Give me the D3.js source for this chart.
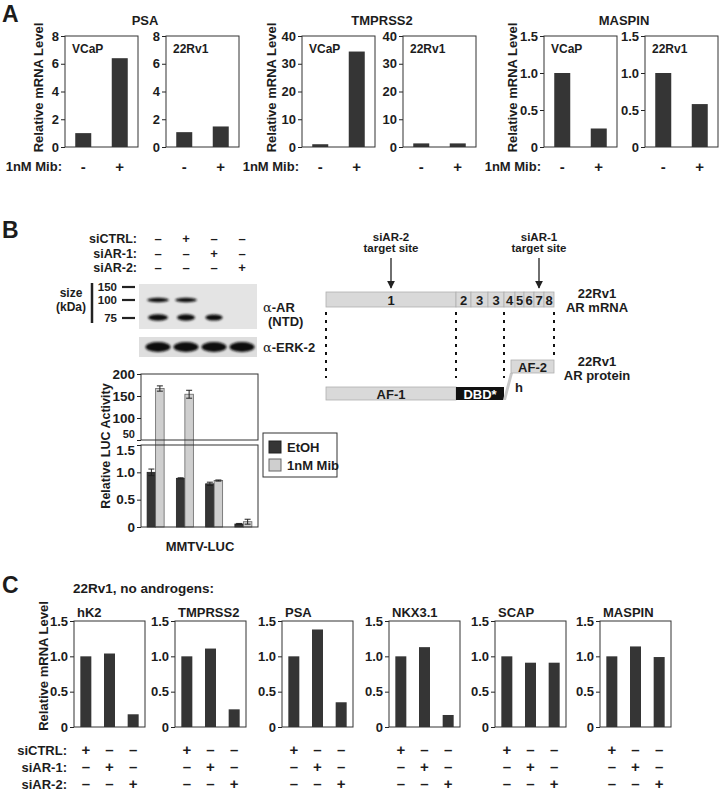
<!DOCTYPE html>
<html><head><meta charset="utf-8">
<script src="https://cdn.jsdelivr.net/npm/d3@7"></script>
<style>
body{margin:0;background:#fff}
svg text{font-family:"Liberation Sans",Arial,Helvetica,sans-serif;font-weight:bold;fill:#1c1c1c}
.tick line{stroke:#222}
</style></head><body>
<svg id="fig" width="721" height="791"></svg>
<script>
// ---------------- DATA ----------------
// Panel A
const aGenes = ["PSA", "TMPRSS2", "MASPIN"];
const aCells = ["VCaP", "22Rv1"];
const aMib = ["-", "+"];
const aPSA = [[1.0, 6.4], [1.07, 1.48]];
const aTMPRSS2 = [[1.0, 34.4], [1.3, 1.3]];
const aMASPIN = [[1.0, 0.25], [1.0, 0.58]];
const aYMax = [8, 40, 1.5];
const aTicks = [[0, 2, 4, 6, 8], [0, 10, 20, 30, 40], [0, 0.5, 1.0, 1.5]];

// Panel B
const bRowLabels = ["siCTRL:", "siAR-1:", "siAR-2:"];
const bSigns = [["–", "+", "–", "–"], ["–", "–", "+", "–"], ["–", "–", "–", "+"]];
const bLanes = ["1", "2", "3", "4"];
const bSizes = ["150", "100", "75"];
const bBandAR100 = [1, 1, 0, 0];
const bBandAR75 = [1, 0.9, 0.85, 0];
const bBandERK = [1, 1, 1, 1];
const bSeries = ["EtOH", "1nM Mib"];
const bEtOH = [1.0, 0.89, 0.79, 0.055];
const bEtOHErr = [0.06, 0.01, 0.03, 0.01];
const bMib = [167, 154, 0.85, 0.097];
const bMibErr = [6, 9, 0.01, 0.045];
const bUpperTicks = [50, 100, 150, 200];
const bLowerTicks = [0, 0.5, 1.0, 1.5];
const exonLabels = ["1", "2", "3", "3", "4", "5", "6", "7", "8"];
const exonLen = [130, 15, 17, 16, 11, 9, 10, 10, 10];
const siTargets = [{ name: "siAR-2", pos: 65 }, { name: "siAR-1", pos: 213 }];

// Panel C
const cGenes = ["hK2", "TMPRSS2", "PSA", "NKX3.1", "SCAP", "MASPIN"];
const cConds = ["siCTRL", "siAR-1", "siAR-2"];
const cRowLabels = ["siCTRL:", "siAR-1:", "siAR-2:"];
const cSigns = [["+", "–", "–"], ["–", "+", "–"], ["–", "–", "+"]];
const cValues = [
  [1.0, 1.04, 0.18],
  [1.0, 1.11, 0.25],
  [1.0, 1.38, 0.35],
  [1.0, 1.13, 0.17],
  [1.0, 0.91, 0.91],
  [1.0, 1.14, 0.99]
];
const cTicks = [0, 0.5, 1.0, 1.5];

// ---------------- DRAWING ----------------
const svg = d3.select("#fig");
const defs = svg.append("defs");
defs.append("filter").attr("id", "blur").attr("x", "-50%").attr("y", "-100%").attr("width", "200%").attr("height", "300%")
  .append("feGaussianBlur").attr("stdDeviation", 1.1);
defs.append("marker").attr("id", "arr").attr("viewBox", "0 0 10 10").attr("refX", 9).attr("refY", 5)
  .attr("markerWidth", 6).attr("markerHeight", 6).attr("orient", "auto")
  .append("path").attr("d", "M0,0 L10,5 L0,10 z").attr("fill", "#222");

const DARK = "#353535", LIGHT = "#cfcfcf";
const fmtDec = d => d === 0 ? "0" : d3.format(".1f")(d);

function txt(x, y, s, size, anchor, extra) {
  const t = svg.append("text").attr("x", x).attr("y", y).attr("font-size", size)
    .attr("text-anchor", anchor || "start").text(s);
  if (extra) extra(t);
  return t;
}
function yAxis(x0, scale, ticks, fmt, size) {
  const g = svg.append("g").attr("transform", `translate(${x0},0)`)
    .call(d3.axisLeft(scale).tickValues(ticks).tickSize(4).tickPadding(2).tickFormat(fmt));
  g.select(".domain").remove();
  g.selectAll("text").attr("font-size", size).style("font-family", "'Liberation Sans',Arial,sans-serif").style("font-weight", "bold").attr("fill", "#1c1c1c");
  return g;
}
function box(x0, y0, w, h) {
  svg.append("rect").attr("x", x0).attr("y", y0).attr("width", w).attr("height", h)
    .attr("fill", "none").attr("stroke", "#333").attr("stroke-width", 1);
}

// ===== Panel A =====
txt(2, 22, "A", 23);
const aData = [aPSA, aTMPRSS2, aMASPIN];
const aLeft = [65, 302, 544];
const aYLab = [43, 276, 517];
const aBoxW = 73, aGap = 101, aTop = 36, aBot = 147;
aGenes.forEach((g, gi) => {
  const y = d3.scaleLinear().domain([0, aYMax[gi]]).range([aBot, aTop]);
  const fmt = gi < 2 ? d3.format("d") : fmtDec;
  txt(aLeft[gi] + 80, 25, g, 13, "middle");
  svg.append("text").attr("font-size", 13).attr("text-anchor", "middle")
    .attr("transform", `translate(${aYLab[gi]},${(aTop + aBot) / 2 - 4}) rotate(-90)`).text("Relative mRNA Level");
  txt(aLeft[gi] - 3, 171, "1nM Mib:", 13, "end");
  aCells.forEach((c, ci) => {
    const x0 = aLeft[gi] + ci * aGap;
    const x = d3.scalePoint().domain(aMib).range([x0, x0 + aBoxW]).padding(0.5);
    yAxis(x0, y, aTicks[gi], fmt, 13);
    const bw = 16;
    svg.selectAll(null).data(aData[gi][ci]).enter().append("rect")
      .attr("x", (d, i) => x(aMib[i]) - bw / 2).attr("width", bw)
      .attr("y", d => y(d)).attr("height", d => aBot - y(d)).attr("fill", DARK);
    box(x0, aTop, aBoxW, aBot - aTop);
    txt(x0 + 7, 53, c, 12);
    aMib.forEach(m => txt(x(m), 172, m, 15, "middle"));
  });
});

// ===== Panel B: western blot =====
txt(2, 238, "B", 23);
const laneX = d3.scalePoint().domain(bLanes).range([144, 256]).padding(0.5);
bRowLabels.forEach((l, ri) => {
  const yy = [243, 257.5, 272][ri];
  txt(137, yy, l, 12.5, "end");
  bLanes.forEach((ln, li) => txt(laneX(ln), yy, bSigns[ri][li], 13, "middle"));
});
svg.append("rect").attr("x", 139).attr("y", 284).attr("width", 118).attr("height", 45).attr("fill", "#e4e4e4");
svg.append("rect").attr("x", 139).attr("y", 337).attr("width", 118).attr("height", 20).attr("fill", "#dedede");
function bands(arr, yc, w, h) {
  arr.forEach((d, i) => {
    if (d <= 0) return;
    svg.append("ellipse").attr("cx", laneX(bLanes[i])).attr("cy", yc).attr("rx", w / 2 * d)
      .attr("ry", h / 2 * (0.7 + 0.3 * d)).attr("fill", "#111").attr("filter", "url(#blur)");
  });
}
bands(bBandAR100, 300, 22, 4.5);
bands(bBandAR75, 317.5, 20, 6.5);
bands(bBandERK, 347, 25, 10);
const sizeY = [287, 300, 318];
bSizes.forEach((s, i) => {
  txt(117, sizeY[i] + 4, s, 11.5, "end");
  svg.append("line").attr("x1", 122).attr("x2", 135).attr("y1", sizeY[i]).attr("y2", sizeY[i]).attr("stroke", "#222").attr("stroke-width", 2.2);
});
svg.append("line").attr("x1", 92).attr("x2", 92).attr("y1", 283).attr("y2", 323).attr("stroke", "#222").attr("stroke-width", 2.5);
txt(71, 297, "size", 12, "middle");
txt(71, 311, "(kDa)", 12, "middle");
function alpha(x, y, rest) {
  const t = txt(x, y, "", 13);
  t.append("tspan").style("font-family", "'DejaVu Serif','Liberation Serif',serif").style("font-weight", "normal").text("α");
  t.append("tspan").text(rest);
}
alpha(263, 312, "-AR");
txt(268, 326, "(NTD)", 13);
alpha(263, 352, "-ERK-2");

// ===== Panel B: luciferase chart =====
const bx = d3.scalePoint().domain(bLanes).range([141, 258]).padding(0.5);
const yU = d3.scaleLinear().domain([50, 200]).range([440, 374]);
const yL = d3.scaleLinear().domain([0, 1.5]).range([527, 445]);
const bw2 = 8.5;
const topOf = v => v > 1.5 ? yU(v) : yL(v);
[bEtOH, bMib].forEach((ser, si) => {
  const err = si === 0 ? bEtOHErr : bMibErr;
  ser.forEach((v, i) => {
    const cx = bx(bLanes[i]);
    const xL = si === 0 ? cx - bw2 : cx;
    svg.append("rect").attr("x", xL).attr("width", bw2).attr("y", topOf(v)).attr("height", 527 - topOf(v))
      .attr("fill", si === 0 ? DARK : LIGHT).attr("stroke", si === 0 ? "#222" : "#666").attr("stroke-width", 0.8);
    const xc = xL + bw2 / 2;
    const e1 = topOf(v + err[i]), e2 = topOf(v - err[i]);
    svg.append("line").attr("x1", xc).attr("x2", xc).attr("y1", e1).attr("y2", e2).attr("stroke", "#222");
    [e1, e2].forEach(ey => svg.append("line").attr("x1", xc - 3).attr("x2", xc + 3).attr("y1", ey).attr("y2", ey).attr("stroke", "#222"));
  });
});
box(141, 374, 117, 66);
box(141, 445, 117, 82);
const gu = yAxis(141, yU, bUpperTicks, d3.format("d"), 13.5);
gu.selectAll(".tick").filter(d => d === 50).select("text").attr("font-size", 11).attr("dy", "-0.2em");
const gl = yAxis(141, yL, bLowerTicks, fmtDec, 13.5);
gl.selectAll(".tick").filter(d => d === 1.5).select("text").attr("dy", "0.72em");
svg.append("text").attr("font-size", 12.5).attr("text-anchor", "middle")
  .attr("transform", `translate(110,446) rotate(-90)`).text("Relative LUC Activity");
txt(200, 551, "MMTV-LUC", 13, "middle");
// legend
svg.append("rect").attr("x", 263).attr("y", 433).attr("width", 74).attr("height", 44).attr("fill", "#fff").attr("stroke", "#333");
bSeries.forEach((s, i) => {
  svg.append("rect").attr("x", 269).attr("y", 441 + i * 18).attr("width", 12).attr("height", 12)
    .attr("fill", i === 0 ? DARK : LIGHT).attr("stroke", i === 0 ? "#222" : "#666");
  txt(287, 452 + i * 18, s, 13);
});

// ===== Panel B: AR diagram =====
const ex = d3.scaleLinear().domain([0, d3.sum(exonLen)]).range([326, 554]);
const exStart = d3.cumsum([0].concat(exonLen));
exonLabels.forEach((l, i) => {
  svg.append("rect").attr("x", ex(exStart[i])).attr("y", 292).attr("width", ex(exStart[i + 1]) - ex(exStart[i]))
    .attr("height", 15).attr("fill", "#d9d9d9").attr("stroke", "#b0b0b0").attr("stroke-width", 0.8);
  txt((ex(exStart[i]) + ex(exStart[i + 1])) / 2, 304.5, l, 13, "middle");
});
siTargets.forEach(t => {
  const xx = ex(t.pos);
  txt(xx, 241, t.name, 11.5, "middle");
  txt(xx, 252, "target site", 11.5, "middle");
  svg.append("line").attr("x1", xx).attr("x2", xx).attr("y1", 258).attr("y2", 288).attr("stroke", "#222").attr("stroke-width", 1.3).attr("marker-end", "url(#arr)");
});
txt(597, 298, "22Rv1", 13, "middle");
txt(597, 312, "AR mRNA", 13, "middle");
const dots = [[exStart[0], 378], [exStart[1], 378], [exStart[4], 378], [exStart[9], 356]];
dots.forEach(([p, y2]) => {
  svg.append("line").attr("x1", ex(p)).attr("x2", ex(p)).attr("y1", 312).attr("y2", y2)
    .attr("stroke", "#111").attr("stroke-width", 2).attr("stroke-dasharray", "3,5");
});
svg.append("rect").attr("x", ex(exStart[0])).attr("y", 387).attr("width", ex(exStart[1]) - ex(exStart[0])).attr("height", 13)
  .attr("fill", "#d9d9d9").attr("stroke", "#b0b0b0").attr("stroke-width", 0.8);
txt((ex(exStart[0]) + ex(exStart[1])) / 2, 399, "AF-1", 13, "middle");
svg.append("rect").attr("x", ex(exStart[1])).attr("y", 387).attr("width", ex(exStart[4]) - ex(exStart[1])).attr("height", 13).attr("fill", "#111");
txt((ex(exStart[1]) + ex(exStart[4])) / 2, 399, "DBD*", 13, "middle", t => t.style("fill", "#fff"));
const hx = ex(exStart[4]);
svg.append("polygon").attr("points", `${hx - 1},400 ${hx + 2},400 ${hx + 9},373 ${hx + 6},373`).attr("fill", "#c8c8c8");
svg.append("rect").attr("x", hx + 7).attr("y", 360).attr("width", 43).attr("height", 13)
  .attr("fill", "#d9d9d9").attr("stroke", "#b0b0b0").attr("stroke-width", 0.8);
txt(hx + 28.5, 372, "AF-2", 13, "middle");
txt(hx + 11, 392, "h", 13);
txt(597, 366, "22Rv1", 13, "middle");
txt(597, 380, "AR protein", 13, "middle");

// ===== Panel C =====
txt(2, 593, "C", 23);
txt(73, 593, "22Rv1, no androgens:", 13.5);
const cLeft = [74, 175, 282, 389, 495, 600];
const cW = 71, cTop = 621, cBot = 727;
const yc = d3.scaleLinear().domain([0, 1.5]).range([cBot, cTop]);
svg.append("text").attr("font-size", 13).attr("text-anchor", "middle")
  .attr("transform", `translate(48,666) rotate(-90)`).text("Relative mRNA Level");
const rowY = [755, 772, 789];
cRowLabels.forEach((l, ri) => txt(67, rowY[ri], l, 13, "end"));
cGenes.forEach((g, gi) => {
  const x0 = cLeft[gi];
  const x = d3.scalePoint().domain(cConds).range([x0, x0 + cW]).padding(0.5);
  yAxis(x0, yc, cTicks, fmtDec, 13);
  svg.selectAll(null).data(cValues[gi]).enter().append("rect")
    .attr("x", (d, i) => x(cConds[i]) - 5.5).attr("width", 11)
    .attr("y", d => yc(d)).attr("height", d => cBot - yc(d)).attr("fill", DARK);
  box(x0, cTop, cW, cBot - cTop);
  txt(x0 + 3, 617, g, 13);
  cConds.forEach((c, ci) => cRowLabels.forEach((r, ri) => txt(x(c), rowY[ri], cSigns[ri][ci], 15, "middle")));
});
</script>
</body></html>
